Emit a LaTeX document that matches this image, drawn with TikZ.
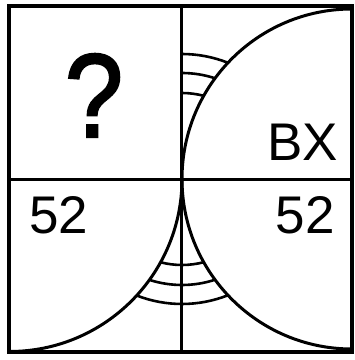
\documentclass[tikz,border=0pt]{standalone}
\usepackage{fontspec}
\newfontfamily\lab{Liberation Sans}
\newfontfamily\qfont[FakeBold=2]{Liberation Sans}
\begin{document}
\begin{tikzpicture}[x=1pt,y=1pt,
  border/.style={line width=4pt},
  grid/.style={line width=3pt},
  curve/.style={line width=3pt},
  anglemark/.style={line width=2.6pt},
  lbl/.style={inner sep=0pt,font=\lab\fontsize{53}{60}\selectfont},
  qm/.style={inner sep=0pt,xscale=0.88,font=\qfont\fontsize{119}{130}\selectfont}]
\useasboundingbox (0,0) rectangle (355,360);
\coordinate (C) at (182,181);
\coordinate (Rc) at (352,181);
\coordinate (Lc) at (9.5,181);
% grid
\draw[grid] (182,354.5) -- (182,8.5);
\draw[grid] (9.5,181) -- (352,181);
% curves
\draw[curve] ([shift={(90:170pt)}]Rc) arc[start angle=90,end angle=270,radius=170pt];
\draw[curve] ([shift={(0:172.5pt)}]Lc) arc[start angle=0,end angle=-90,radius=172.5pt];
% angle marks
\foreach \r in {86,106,125}{
  \draw[anglemark] ([shift={(90:\r pt)}]C) arc[start angle=90,end angle={acos(\r/340)},radius=\r pt];
  \draw[anglemark] ([shift={({270-asin(\r/345)}:\r pt)}]C) arc[start angle={270-asin(\r/345)},end angle={270+asin(\r/340)},radius=\r pt];
}
% border
\draw[border] (9.5,354.5) rectangle (352,8.5);
% labels
\node[qm,anchor=base] (q) at (94,223) {?};
\node[lbl,anchor=base east] (bx) at (338,200) {BX};
\node[lbl,anchor=base west] (l52) at (29,127) {52};
\node[lbl,anchor=base east] (r52) at (335,127) {52};
\end{tikzpicture}
\end{document}
